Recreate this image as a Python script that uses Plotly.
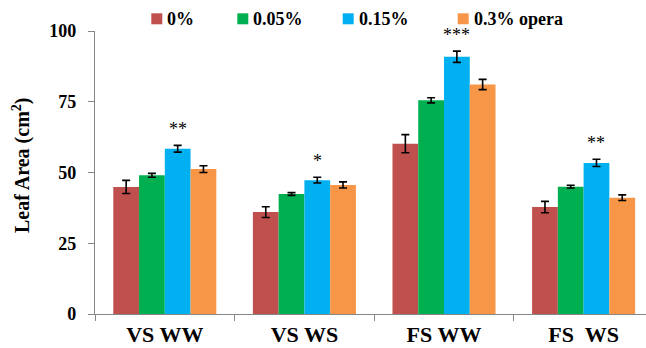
import plotly.graph_objects as go

# Leaf area (cm²) by growth stage / water regime and treatment concentration
groups = ["VS WW", "VS WS", "FS WW", "FS\u00a0 WS"]
treatments = ["0%", "0.05%", "0.15%", "0.3% opera"]
colors = ["#C0504D", "#00B050", "#00B0F0", "#F79646"]

mean_0 = [44.9, 36.0, 60.2, 37.8]
mean_005 = [49.0, 42.4, 75.5, 45.0]
mean_015 = [58.4, 47.3, 90.9, 53.4]
mean_03 = [51.2, 45.6, 81.1, 41.1]

err_0 = [2.3, 1.9, 3.2, 2.0]
err_005 = [0.7, 0.5, 0.9, 0.5]
err_015 = [1.2, 1.0, 2.0, 1.3]
err_03 = [1.2, 1.1, 1.8, 1.0]

# significance marks above the 0.15% bars
sig_015 = ["**", "*", "***", "**"]

y_ticks = [0, 25, 50, 75, 100]

means = [mean_0, mean_005, mean_015, mean_03]
errs = [err_0, err_005, err_015, err_03]

W, H = 646, 348
ML, MR, MT, MB = 95, 0, 31, 34
PW, PH = W - ML - MR, H - MT - MB
BARGAP = 0.262
UNIT_PX = 139.6  # pixels per category
x_end = -0.5 + PW / UNIT_PX

FONT = "Liberation Serif"


def px_x(p):
    return (p - ML) / PW


def px_y(p):
    return (H - MB - p) / PH


fig = go.Figure()
for name, col, m, e in zip(treatments, colors, means, errs):
    fig.add_trace(go.Bar(
        x=groups, y=m, name=name, marker=dict(color=col, line=dict(width=0)),
        error_y=dict(type="data", array=e, color="black", thickness=1.6, width=4),
        showlegend=False,
    ))

# star annotations centred over the third bar of each group
slot = (1 - BARGAP) / len(treatments)
for i, (s, m, e) in enumerate(zip(sig_015, mean_015, err_015)):
    fig.add_annotation(
        x=i + (2 - 1.5) * slot, y=m + e, xref="x", yref="y",
        text=s, showarrow=False, yanchor="bottom", yshift=4,
        font=dict(family=FONT, size=18, color="black"),
    )

# legend drawn as swatches and labels across the top
leg_sq = [151.3, 237.3, 342.7, 457.7]
for name, col, sx in zip(treatments, colors, leg_sq):
    fig.add_shape(type="rect", xref="paper", yref="paper",
                  x0=px_x(sx), x1=px_x(sx + 11), y0=px_y(24.3), y1=px_y(13.3),
                  fillcolor=col, line=dict(width=0))
    fig.add_annotation(x=px_x(sx + 14), y=px_y(19), xref="paper", yref="paper",
                       text=name, showarrow=False, xanchor="left", yanchor="middle",
                       font=dict(family=FONT, size=18, color="black", weight="bold"))

# y-axis title
fig.add_annotation(x=0, xshift=22 - ML, y=px_y(166), xref="paper", yref="paper",
                   xanchor="center", yanchor="middle",
                   text="Leaf Area (cm<sup>2</sup>)", textangle=-90, showarrow=False,
                   font=dict(family=FONT, size=20, color="black", weight="bold"))

fig.update_layout(
    width=W, height=H, margin=dict(l=ML, r=MR, t=MT, b=MB),
    barmode="group", bargap=BARGAP, bargroupgap=0,
    plot_bgcolor="white", paper_bgcolor="white",
    font=dict(family=FONT, color="black"),
)
fig.update_xaxes(
    type="category", range=[-0.5, x_end], tickson="boundaries",
    ticks="outside", ticklen=6, tickcolor="#868686", tickwidth=1.3,
    showline=True, linecolor="#868686", linewidth=1.3, showgrid=False,
    tickfont=dict(family=FONT, size=22, color="black", weight="bold"),
)
fig.update_yaxes(
    range=[0, 100], tickvals=y_ticks, ticks="outside", ticklen=6,
    tickcolor="#868686", tickwidth=1.3, showline=True, linecolor="#868686",
    linewidth=1.3, showgrid=False, zeroline=False, ticklabelstandoff=8,
    tickfont=dict(family=FONT, size=18, color="black", weight="bold"),
)

fig.write_html("out.html")
